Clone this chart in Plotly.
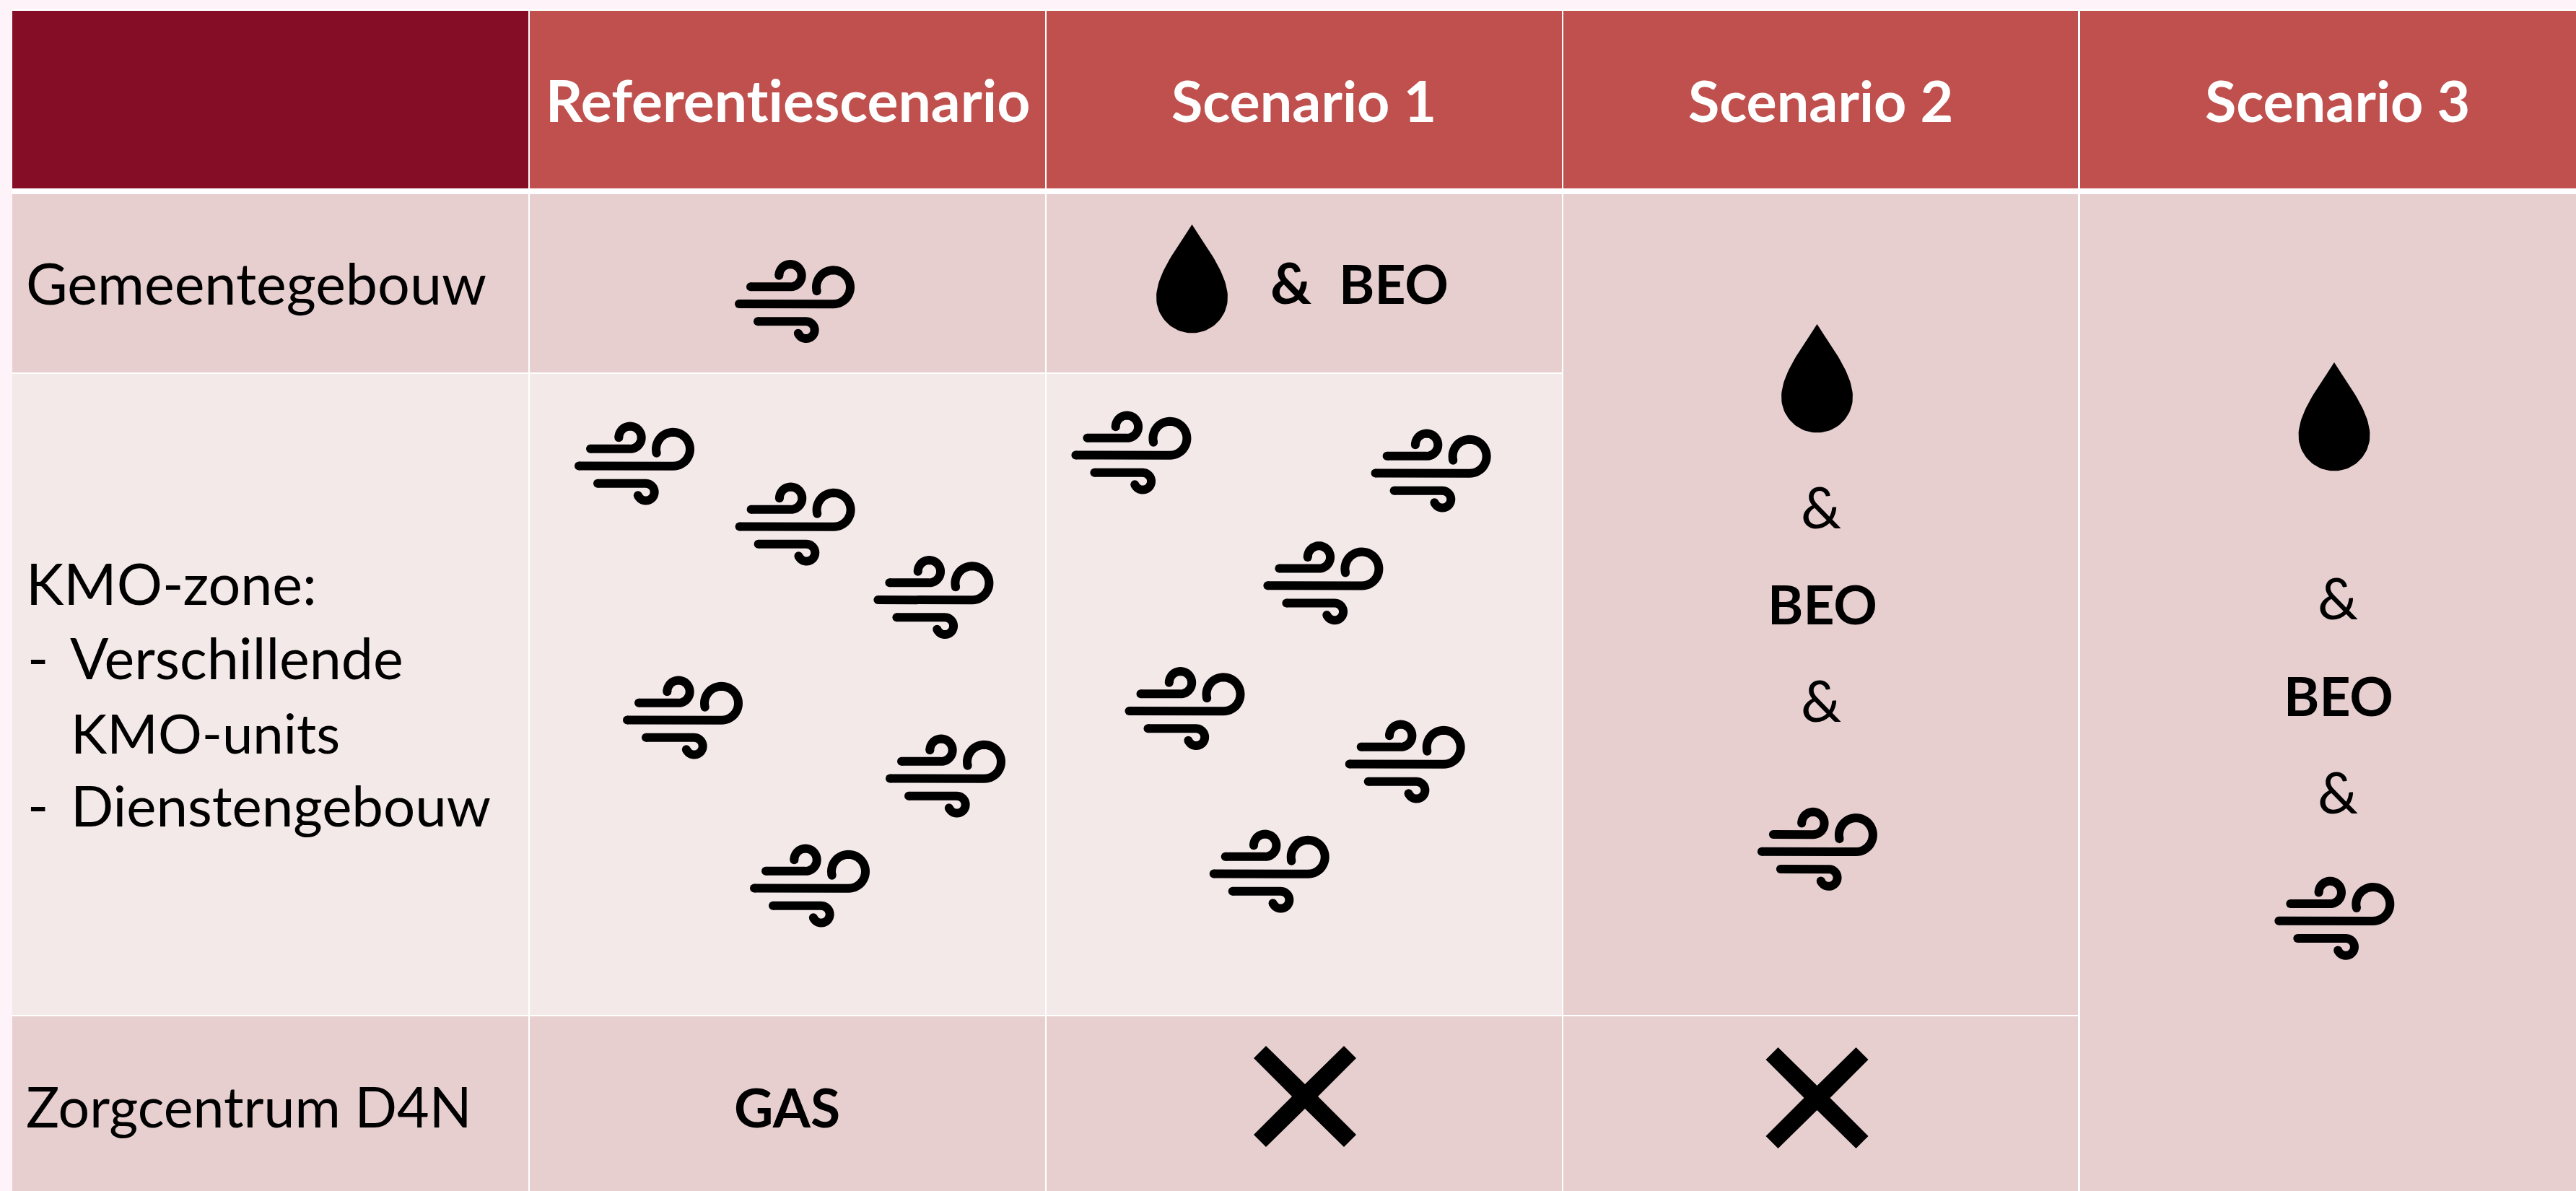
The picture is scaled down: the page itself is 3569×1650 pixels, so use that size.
import numpy as np
import plotly.graph_objects as go

W, H = 3569, 1650
PAGE_BG = "#FDF3F9"
WHITE = "#FFFFFF"
CORNER = "#860D26"
HEAD = "#C0504D"
DARK = "#E7CFD0"
LIGHT = "#F3E9E8"

# cell rectangles: x0, x1, y0, y1, colour
col_x0 = [17, 734, 1450, 2166, 2882]
col_x1 = [732, 1448, 2164, 2879, 3569]
row_y0 = [15, 269, 518, 1408]
row_y1 = [261, 516, 1406, 1650]

cells = [
    (0, 0, 0, 0, CORNER), (1, 1, 0, 0, HEAD), (2, 2, 0, 0, HEAD), (3, 3, 0, 0, HEAD), (4, 4, 0, 0, HEAD),
    (0, 0, 1, 1, DARK), (1, 1, 1, 1, DARK), (2, 2, 1, 1, DARK), (3, 3, 1, 2, DARK), (4, 4, 1, 3, DARK),
    (0, 0, 2, 2, LIGHT), (1, 1, 2, 2, LIGHT), (2, 2, 2, 2, LIGHT),
    (0, 0, 3, 3, DARK), (1, 1, 3, 3, DARK), (2, 2, 3, 3, DARK), (3, 3, 3, 3, DARK),
]

# icon centres
wind_x = [1101, 879, 1101.6, 1293.4, 946, 1310, 1122,
          1567.4, 1982.6, 1833.4, 1641.5, 1946.7, 1758.7, 2517.9, 3234.3]
wind_y = [417.5, 642, 726, 827.5, 994, 1075, 1227,
          627, 652, 807.7, 981.5, 1055, 1207, 1176.3, 1272.2]
drop_x = [1651.5, 2517.5, 3234]
drop_tip_y = [311, 449, 502]
cross_x = [1808, 2517.5]
cross_y = [1519, 1521]

# text: string, x, baseline y, anchor, size, bold, colour
HDR = 79
MIX = 79
CAP = 75
texts = [
    ("Referentiescenario", 1091, 168, "center", 80.5, True, WHITE),
    ("Scenario 1", 1806, 168, "center", HDR, True, WHITE),
    ("Scenario 2", 2522, 168, "center", HDR, True, WHITE),
    ("Scenario 3", 3238, 168, "center", HDR, True, WHITE),
    ("Gemeentegebouw", 36, 421, "left", MIX, False, "#000000"),
    ("KMO-zone:", 36, 837, "left", MIX, False, "#000000"),
    ("-", 38, 940, "left", MIX, False, "#000000"),
    ("Verschillende", 97, 940, "left", MIX, False, "#000000"),
    ("KMO-units", 98, 1043, "left", 76, False, "#000000"),
    ("-", 38, 1144, "left", MIX, False, "#000000"),
    ("Dienstengebouw", 98, 1144, "left", 78, False, "#000000"),
    ("Zorgcentrum D4N", 36, 1561, "left", 77, False, "#000000"),
    ("GAS", 1090, 1561, "center", CAP, True, "#000000"),
    ("&", 1788, 420, "center", MIX, True, "#000000"),
    ("BEO", 1931, 420, "center", CAP, True, "#000000"),
    ("&", 2523, 731, "center", MIX, False, "#000000"),
    ("BEO", 2524.5, 864, "center", CAP, True, "#000000"),
    ("&", 2523, 999, "center", MIX, False, "#000000"),
    ("&", 3238.7, 857, "center", MIX, False, "#000000"),
    ("BEO", 3239.5, 991, "center", CAP, True, "#000000"),
    ("&", 3238.7, 1126, "center", MIX, False, "#000000"),
]


def arc(cx, cy, r, a0, a1, n=40):
    t = np.radians(np.linspace(a0, a1, n))
    return list(cx + r * np.cos(t)), list(cy + r * np.sin(t))


def wind_strokes():
    """Centre lines of the three wind strokes, relative to the icon centre."""
    ox, oy = 101, 77.5
    out = []
    for (lx, ly, cx, cy, r, a0, a1) in [
        (40, 57.3, 95, 41.7, 15.67, 90, -180),
        (24, 81, 154.5, 57.8, 23.5, 90, -193.6),
        (50, 105.3, 116.8, 117.2, 11.85, -90, 157.4),
    ]:
        ax, ay = arc(cx, cy, r, a0, a1)
        out.append(([lx - ox] + [v - ox for v in ax], [ly - oy] + [v - oy for v in ay]))
    return out


def bez(p0, p1, p2, p3, n=30):
    t = np.linspace(0, 1, n)
    return [(1-u)**3*p0 + 3*(1-u)**2*u*p1 + 3*(1-u)*u*u*p2 + u**3*p3 for u in t]


def drop_outline():
    r = 49.5
    xs = bez(0, 14, r, r) + list(r * np.cos(np.radians(np.linspace(0, 180, 50)))) + bez(-r, -r, -14, 0)
    ys = bez(0, 24, 66, 101) + list(101 + r * np.sin(np.radians(np.linspace(0, 180, 50)))) + bez(101, 66, 24, 0)
    return xs, ys


CROSS_DX = [-54, -71, -18, -71, -54, 0, 54, 71, 18, 71, 54, 0]
CROSS_DY = [-70, -53, 0, 53, 70, 17, 70, 53, 0, -53, -70, -17]

fig = go.Figure()

shapes = [dict(type="rect", xref="x", yref="y", x0=17, x1=W, y0=13, y1=H,
               fillcolor=WHITE, line_width=0, layer="below")]
for c0, c1, r0, r1, colour in cells:
    shapes.append(dict(type="rect", xref="x", yref="y",
                       x0=col_x0[c0], x1=col_x1[c1], y0=row_y0[r0], y1=row_y1[r1],
                       fillcolor=colour, line_width=0, layer="below"))

# wind icons
line_x, line_y, cap_x, cap_y = [], [], [], []
for cx, cy in zip(wind_x, wind_y):
    for sx, sy in wind_strokes():
        line_x += [cx + v for v in sx] + [None]
        line_y += [cy + v for v in sy] + [None]
        cap_x += [cx + sx[0], cx + sx[-1]]
        cap_y += [cy + sy[0], cy + sy[-1]]
fig.add_trace(go.Scatter(x=line_x, y=line_y, mode="lines", hoverinfo="skip",
                         line=dict(color="#000000", width=12, simplify=False)))
fig.add_trace(go.Scatter(x=cap_x, y=cap_y, mode="markers", hoverinfo="skip",
                         marker=dict(color="#000000", size=12, line_width=0)))

# drops
dx, dy = drop_outline()
px, py = [], []
for cx, ty in zip(drop_x, drop_tip_y):
    px += [cx + v for v in dx] + [None]
    py += [ty + v for v in dy] + [None]
fig.add_trace(go.Scatter(x=px, y=py, mode="lines", fill="toself", fillcolor="#000000",
                         line=dict(width=0, color="#000000"), hoverinfo="skip"))

# crosses
px, py = [], []
for cx, cy in zip(cross_x, cross_y):
    px += [cx + v for v in CROSS_DX] + [cx + CROSS_DX[0], None]
    py += [cy + v for v in CROSS_DY] + [cy + CROSS_DY[0], None]
fig.add_trace(go.Scatter(x=px, y=py, mode="lines", fill="toself", fillcolor="#000000",
                         line=dict(width=0, color="#000000"), hoverinfo="skip"))

annotations = []
for s, x, base, anchor, size, bold, colour in texts:
    annotations.append(dict(
        text=f"<b>{s}</b>" if bold else s, x=x, y=base, xref="x", yref="y",
        xanchor=anchor, yanchor="bottom", yshift=-(0.213 * size + 1), showarrow=False,
        font=dict(family="Lato", size=size, color=colour), borderpad=0, borderwidth=0))

fig.update_layout(
    width=W, height=H, autosize=False, showlegend=False,
    margin=dict(l=0, r=0, t=0, b=0, pad=0),
    paper_bgcolor=PAGE_BG, plot_bgcolor=PAGE_BG,
    xaxis=dict(range=[0, W], visible=False, fixedrange=True),
    yaxis=dict(range=[H, 0], visible=False, fixedrange=True),
    shapes=shapes, annotations=annotations,
)

CSS = ("<style>body{margin:0;overflow:hidden}"
       "svg text{font-variant-ligatures:none !important;"
       "font-feature-settings:'liga' 0,'clig' 0,'dlig' 0 !important}</style>")
fig.write_html("out.html", config={"displayModeBar": False},
               post_script=f"document.head.insertAdjacentHTML('beforeend',\"{CSS}\");"
                           "Plotly.redraw('{plot_id}');")
